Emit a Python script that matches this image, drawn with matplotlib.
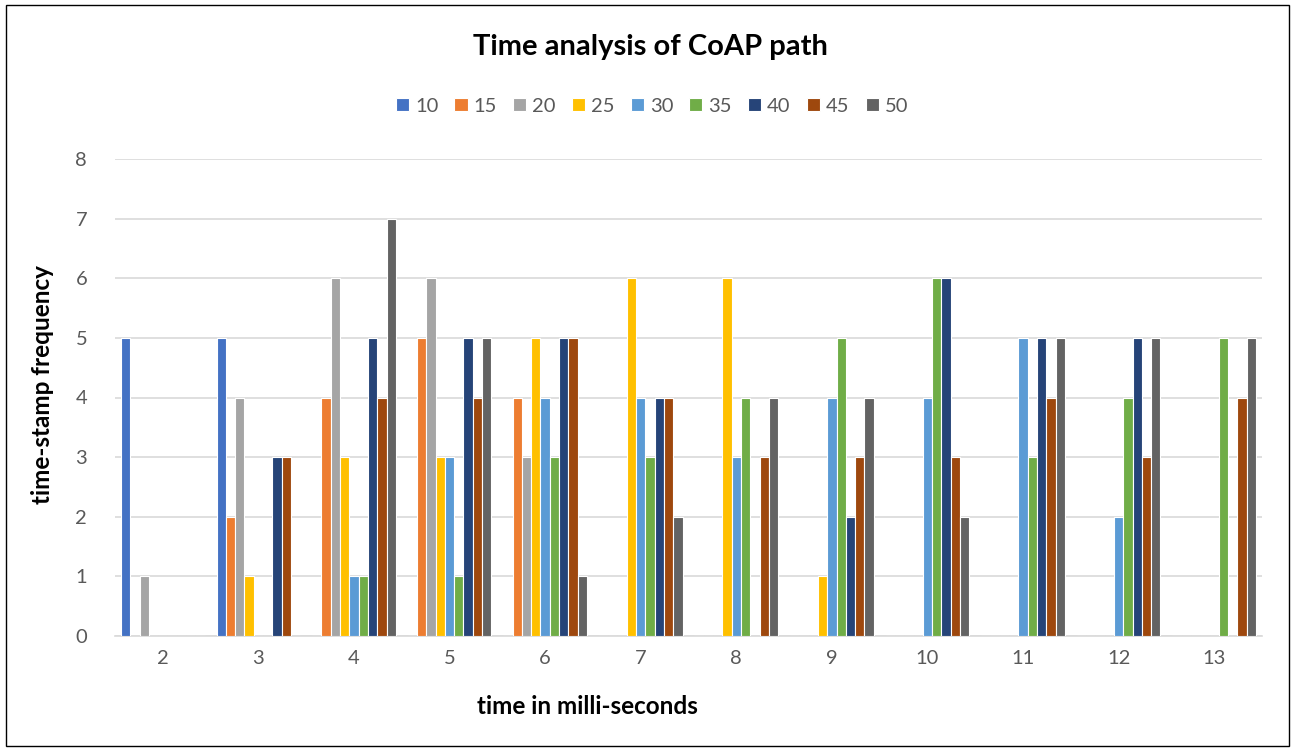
import matplotlib
matplotlib.use("Agg")
import matplotlib.pyplot as plt
import numpy as np
from matplotlib.patches import Rectangle

categories = ["2", "3", "4", "5", "6", "7", "8", "9", "10", "11", "12", "13"]
series_names = ["10", "15", "20", "25", "30", "35", "40", "45", "50"]
s10 = [5, 5, 0, 0, 0, 0, 0, 0, 0, 0, 0, 0]
s15 = [0, 2, 4, 5, 4, 0, 0, 0, 0, 0, 0, 0]
s20 = [1, 4, 6, 6, 3, 0, 0, 0, 0, 0, 0, 0]
s25 = [0, 1, 3, 3, 5, 6, 6, 1, 0, 0, 0, 0]
s30 = [0, 0, 1, 3, 4, 4, 3, 4, 4, 5, 2, 0]
s35 = [0, 0, 1, 1, 3, 3, 4, 5, 6, 3, 4, 5]
s40 = [0, 3, 5, 5, 5, 4, 0, 2, 6, 5, 5, 0]
s45 = [0, 3, 4, 4, 5, 4, 3, 3, 3, 4, 3, 4]
s50 = [0, 0, 7, 5, 1, 2, 4, 4, 2, 5, 5, 5]
all_series = [s10, s15, s20, s25, s30, s35, s40, s45, s50]
colors = ["#4472C4", "#ED7D31", "#A5A5A5", "#FFC000", "#5B9BD5",
          "#70AD47", "#264478", "#9E480E", "#636363"]

plt.rcParams['font.family'] = ['Lato', 'DejaVu Sans']

fig = plt.figure(figsize=(12.95, 7.51), dpi=100)
ax = fig.add_axes([115/1295, 1-636/751, (1262-115)/1295, (636-159)/751])

x = np.arange(len(categories))
step = 9.3 / 95.6
n = len(all_series)
for i, (vals, c, name) in enumerate(zip(all_series, colors, series_names)):
    offs = (i - (n - 1) / 2) * step
    ax.bar(x + offs, vals, width=step, color=c, edgecolor="white",
           linewidth=0.8, label=name, zorder=3)

ax.set_xlim(-0.5, len(categories) - 0.5)
ax.set_ylim(0, 8)
ax.set_yticks(range(0, 9))
ax.set_xticks(x)
ax.set_xticklabels(categories)
ax.yaxis.grid(True, color="#D9D9D9", linewidth=1.2, zorder=0)
ax.set_axisbelow(True)
for sp in ["top", "right", "left"]:
    ax.spines[sp].set_visible(False)
ax.spines["bottom"].set_color("#D9D9D9")
ax.spines["bottom"].set_linewidth(1.2)
ax.tick_params(axis="both", length=0, labelsize=14.5, colors="#595959")
ax.tick_params(axis="y", pad=20)
ax.tick_params(axis="x", pad=10)

fig.text(650/1295, 1-47/751, "Time analysis of CoAP path", ha="center", va="center",
         fontsize=21, fontweight="bold", color="black")
fig.text(43/1295, 1-385/751, "time-stamp frequency", ha="center", va="center",
         rotation=90, fontsize=17.5, fontweight="bold", color="black")
fig.text(587/1295, 1-706/751, "time in milli-seconds", ha="center", va="center",
         fontsize=17.5, fontweight="bold", color="black")

leg = fig.legend(loc="center", bbox_to_anchor=(652/1295, 1-106/751), ncol=9,
                 frameon=False, fontsize=14.5, handlelength=0.65, handleheight=0.65,
                 handletextpad=0.3, columnspacing=0.8)
for t in leg.get_texts():
    t.set_color("#595959")

fig.patches.append(Rectangle((6/1295, 5/751), 1283/1295, 741/751, transform=fig.transFigure,
                             fill=False, edgecolor="black", linewidth=1.0))

fig.savefig("out.png", dpi=100, facecolor="white")
